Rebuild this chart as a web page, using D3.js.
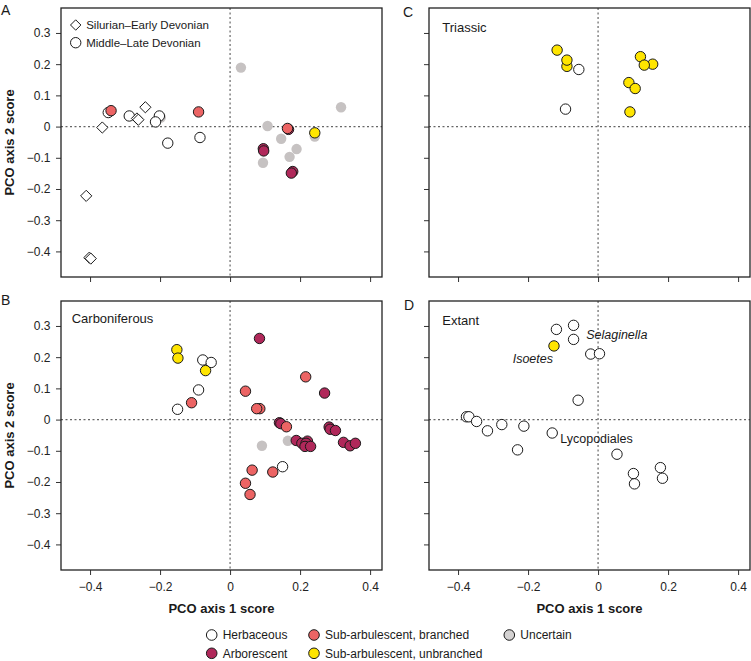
<!DOCTYPE html>
<html><head><meta charset="utf-8">
<script src="https://cdn.jsdelivr.net/npm/d3@7/dist/d3.min.js"></script>
<style>
body{margin:0;background:#fff;}
svg{display:block;font-family:"Liberation Sans",Arial,Helvetica,sans-serif;}
</style></head>
<body>
<svg id="chart" width="751" height="661"></svg>
<script>
// ---------- data ----------
const xTicks = [-0.4, -0.2, 0, 0.2, 0.4];
const yTicks = [-0.4, -0.3, -0.2, -0.1, 0, 0.1, 0.2, 0.3];
const categories = ["Herbaceous", "Arborescent", "Sub-arbulescent, branched", "Sub-arbulescent, unbranched", "Uncertain"];
const periods = ["Silurian\u2013Early Devonian", "Middle\u2013Late Devonian"];
const panelTitles = ["", "Carboniferous", "Triassic", "Extant"];
const panelLetters = ["A", "B", "C", "D"];

// Panel A (Devonian)
const aSilurianHerbaceous = [[-0.365,-0.003],[-0.242,0.062],[-0.266,0.026],[-0.262,0.022],[-0.411,-0.222],[-0.402,-0.420],[-0.398,-0.423]];
const aUncertain   = [[-0.198,0.029],[0.031,0.189],[0.107,0.002],[0.146,-0.039],[0.190,-0.072],[0.170,-0.097],[0.094,-0.116],[0.242,-0.032],[0.317,0.062]];
const aHerbaceous  = [[-0.348,0.045],[-0.288,0.034],[-0.202,0.034],[-0.213,0.015],[-0.178,-0.053],[-0.086,-0.035]];
const aArborescent = [[0.167,-0.009],[0.095,-0.071],[0.096,-0.078],[0.179,-0.144],[0.175,-0.149]];
const aBranched    = [[-0.340,0.051],[-0.090,0.047],[0.164,-0.006]];
const aUnbranched  = [[0.242,-0.020]];

// Panel B (Carboniferous)
const bUncertain   = [[0.091,-0.084],[0.165,-0.068]];
const bHerbaceous  = [[-0.078,0.191],[-0.054,0.183],[-0.090,0.095],[-0.150,0.033],[0.150,-0.151]];
const bArborescent = [[0.084,0.260],[0.270,0.085],[0.141,-0.010],[0.145,-0.013],[0.189,-0.067],[0.205,-0.076],[0.221,-0.069],[0.217,-0.076],[0.214,-0.086],[0.230,-0.086],[0.283,-0.024],[0.286,-0.031],[0.301,-0.035],[0.324,-0.073],[0.343,-0.084],[0.358,-0.076]];
const bBranched    = [[-0.110,0.054],[0.044,0.091],[0.085,0.035],[0.076,0.035],[0.216,0.137],[0.161,-0.023],[0.063,-0.162],[0.044,-0.204],[0.057,-0.240],[0.122,-0.168]];
const bUnbranched  = [[-0.152,0.224],[-0.149,0.197],[-0.070,0.157]];

// Panel C (Triassic)
const cHerbaceous  = [[-0.055,0.183],[-0.093,0.056]];
const cUnbranched  = [[-0.117,0.245],[-0.089,0.193],[-0.089,0.213],[0.156,0.200],[0.121,0.224],[0.132,0.197],[0.088,0.141],[0.106,0.122],[0.091,0.047]];

// Panel D (Extant)
const dHerbaceous  = [[-0.119,0.289],[-0.070,0.302],[-0.070,0.257],[-0.021,0.210],[0.004,0.211],[-0.057,0.062],[-0.376,0.009],[-0.369,0.009],[-0.347,-0.006],[-0.316,-0.036],[-0.275,-0.016],[-0.212,-0.021],[-0.230,-0.097],[-0.131,-0.043],[0.054,-0.111],[0.101,-0.173],[0.104,-0.206],[0.178,-0.154],[0.184,-0.188]];
const dUnbranched  = [[-0.126,0.236]];
const dLabels = ["Selaginella", "Isoetes", "Lycopodiales"];

// ---------- styles ----------
const fillOf = {
  "Herbaceous": "#ffffff",
  "Arborescent": "#b0285a",
  "Sub-arbulescent, branched": "#ec6464",
  "Sub-arbulescent, unbranched": "#ffe500",
  "Uncertain": "#c6c2c2"
};
const strokeCol = "#1a1a1a";
const R = 5.2;

const svg = d3.select("#chart");
const W = 321, H = 269;
const panels = [
  {x:61,  y:8,   title:panelTitles[0], letter:panelLetters[0], lx:1,   ly:15,  tx:0,  ty:0,
   layers:[["Uncertain",aUncertain],["Herbaceous",aHerbaceous],["Arborescent",aArborescent],["Sub-arbulescent, branched",aBranched],["Sub-arbulescent, unbranched",aUnbranched]],
   diamonds:aSilurianHerbaceous, yLabels:true, xLabels:false, legend:true},
  {x:61,  y:301, title:panelTitles[1], letter:panelLetters[1], lx:1,   ly:305, tx:10.7, ty:21.7,
   layers:[["Uncertain",bUncertain],["Herbaceous",bHerbaceous],["Arborescent",bArborescent],["Sub-arbulescent, branched",bBranched],["Sub-arbulescent, unbranched",bUnbranched]],
   yLabels:true, xLabels:true},
  {x:429, y:8,   title:panelTitles[2], letter:panelLetters[2], lx:403, ly:16.5, tx:13.3, ty:24,
   layers:[["Herbaceous",cHerbaceous],["Sub-arbulescent, unbranched",cUnbranched]],
   yLabels:false, xLabels:false},
  {x:429, y:301, title:panelTitles[3], letter:panelLetters[3], lx:404, ly:310, tx:13.3, ty:24,
   layers:[["Herbaceous",dHerbaceous],["Sub-arbulescent, unbranched",dUnbranched]],
   yLabels:false, xLabels:true, extant:true}
];

const xScale = d3.scaleLinear().domain([-0.483, 0.434]).range([0, W]);
const yScale = d3.scaleLinear().domain([-0.482, 0.380]).range([H, 0]);
const fmt = d => d === 0 ? "0" : d3.format(".1f")(d);

panels.forEach(p => {
  const g = svg.append("g").attr("transform", `translate(${p.x},${p.y})`);

  // axes
  const xa = d3.axisBottom(xScale).tickValues(xTicks).tickSize(5).tickPadding(7)
    .tickFormat(p.xLabels ? fmt : "");
  const ya = d3.axisLeft(yScale).tickValues(yTicks).tickSize(5).tickPadding(5.5)
    .tickFormat(p.yLabels ? fmt : "");
  const gx = g.append("g").attr("transform", `translate(0,${H})`).call(xa);
  const gy = g.append("g").call(ya);
  [gx, gy].forEach(a => {
    a.select(".domain").remove();
    a.selectAll(".tick line").attr("stroke", "#333").attr("stroke-width", 1);
    a.selectAll(".tick text").attr("fill", "#222").style("font-size", "12px")
      .style("font-family", '"Liberation Sans",Arial,sans-serif');
  });

  // dashed zero lines
  g.append("line").attr("x1", xScale(0)).attr("x2", xScale(0)).attr("y1", 0).attr("y2", H)
    .attr("stroke", "#666").attr("stroke-width", 1.2).attr("stroke-dasharray", "2,2.5");
  g.append("line").attr("x1", 0).attr("x2", W).attr("y1", yScale(0)).attr("y2", yScale(0))
    .attr("stroke", "#666").attr("stroke-width", 1.2).attr("stroke-dasharray", "2,2.5");

  // points
  p.layers.forEach(([cat, pts]) => {
    g.append("g").selectAll("circle").data(pts).join("circle")
      .attr("cx", d => xScale(d[0])).attr("cy", d => yScale(d[1])).attr("r", R)
      .attr("fill", fillOf[cat])
      .attr("stroke", cat === "Uncertain" ? "none" : strokeCol)
      .attr("stroke-width", 1);
  });
  if (p.diamonds) {
    const s = 5.6;
    g.append("g").selectAll("path").data(p.diamonds).join("path")
      .attr("d", d => { const cx = xScale(d[0]), cy = yScale(d[1]);
        return `M${cx},${cy - s}L${cx + s},${cy}L${cx},${cy + s}L${cx - s},${cy}Z`; })
      .attr("fill", "#fff").attr("stroke", strokeCol).attr("stroke-width", 1);
  }

  // frame
  g.append("rect").attr("width", W).attr("height", H).attr("fill", "none")
    .attr("stroke", "#222").attr("stroke-width", 1.3);

  // title
  if (p.title) g.append("text").attr("x", p.tx).attr("y", p.ty).text(p.title)
    .style("font-size", "13px").attr("fill", "#1a1a1a");

  // letter
  svg.append("text").attr("x", p.lx).attr("y", p.ly).text(p.letter)
    .style("font-size", "14px").attr("fill", "#1a1a1a");

  // inner period legend
  if (p.legend) {
    const lx = 14.7, ly1 = 17, ly2 = 34.7, s = 5.2;
    g.append("path").attr("d", `M${lx},${ly1 - s}L${lx + s},${ly1}L${lx},${ly1 + s}L${lx - s},${ly1}Z`)
      .attr("fill", "#fff").attr("stroke", strokeCol);
    g.append("circle").attr("cx", lx).attr("cy", ly2).attr("r", R).attr("fill", "#fff").attr("stroke", strokeCol);
    [ly1, ly2].forEach((yy, i) => g.append("text").attr("x", lx + 10.5).attr("y", yy)
      .attr("dy", "0.35em").text(periods[i]).style("font-size", "11.5px").attr("fill", "#1a1a1a"));
  }

  // extant annotations
  if (p.extant) {
    g.append("text").attr("x", xScale(-0.034)).attr("y", yScale(0.273)).attr("dy", "0.35em")
      .text(dLabels[0]).style("font-size", "12.5px").style("font-style", "italic").attr("fill", "#1a1a1a");
    g.append("text").attr("x", xScale(-0.244)).attr("y", yScale(0.195)).attr("dy", "0.35em")
      .text(dLabels[1]).style("font-size", "12.5px").style("font-style", "italic").attr("fill", "#1a1a1a");
    g.append("text").attr("x", xScale(-0.108)).attr("y", yScale(-0.060)).attr("dy", "0.35em")
      .text(dLabels[2]).style("font-size", "12.5px").attr("fill", "#1a1a1a");
  }

  // axis titles
  if (p.xLabels) g.append("text").attr("x", W / 2).attr("y", H + 43).attr("text-anchor", "middle")
    .text("PCO axis 1 score").style("font-size", "13px").style("font-weight", "bold").attr("fill", "#1a1a1a");
  if (p.yLabels) svg.append("text").attr("transform", `translate(14,${p.y + H / 2}) rotate(-90)`)
    .attr("text-anchor", "middle").text("PCO axis 2 score")
    .style("font-size", "13px").style("font-weight", "bold").attr("fill", "#1a1a1a");
});

// bottom legend
const legendPos = [[211.7, 635], [211.7, 653.3], [314, 635], [314, 653.3], [509.3, 635]];
const lg = svg.append("g");
categories.forEach((c, i) => {
  const [cx, cy] = legendPos[i];
  lg.append("circle").attr("cx", cx).attr("cy", cy).attr("r", 5.3)
    .attr("fill", c === "Uncertain" ? "#d4d2d2" : fillOf[c]).attr("stroke", strokeCol).attr("stroke-width", 1);
  lg.append("text").attr("x", cx + 11).attr("y", cy).attr("dy", "0.35em").text(c)
    .style("font-size", "12px").attr("fill", "#1a1a1a");
});
</script>
</body></html>
